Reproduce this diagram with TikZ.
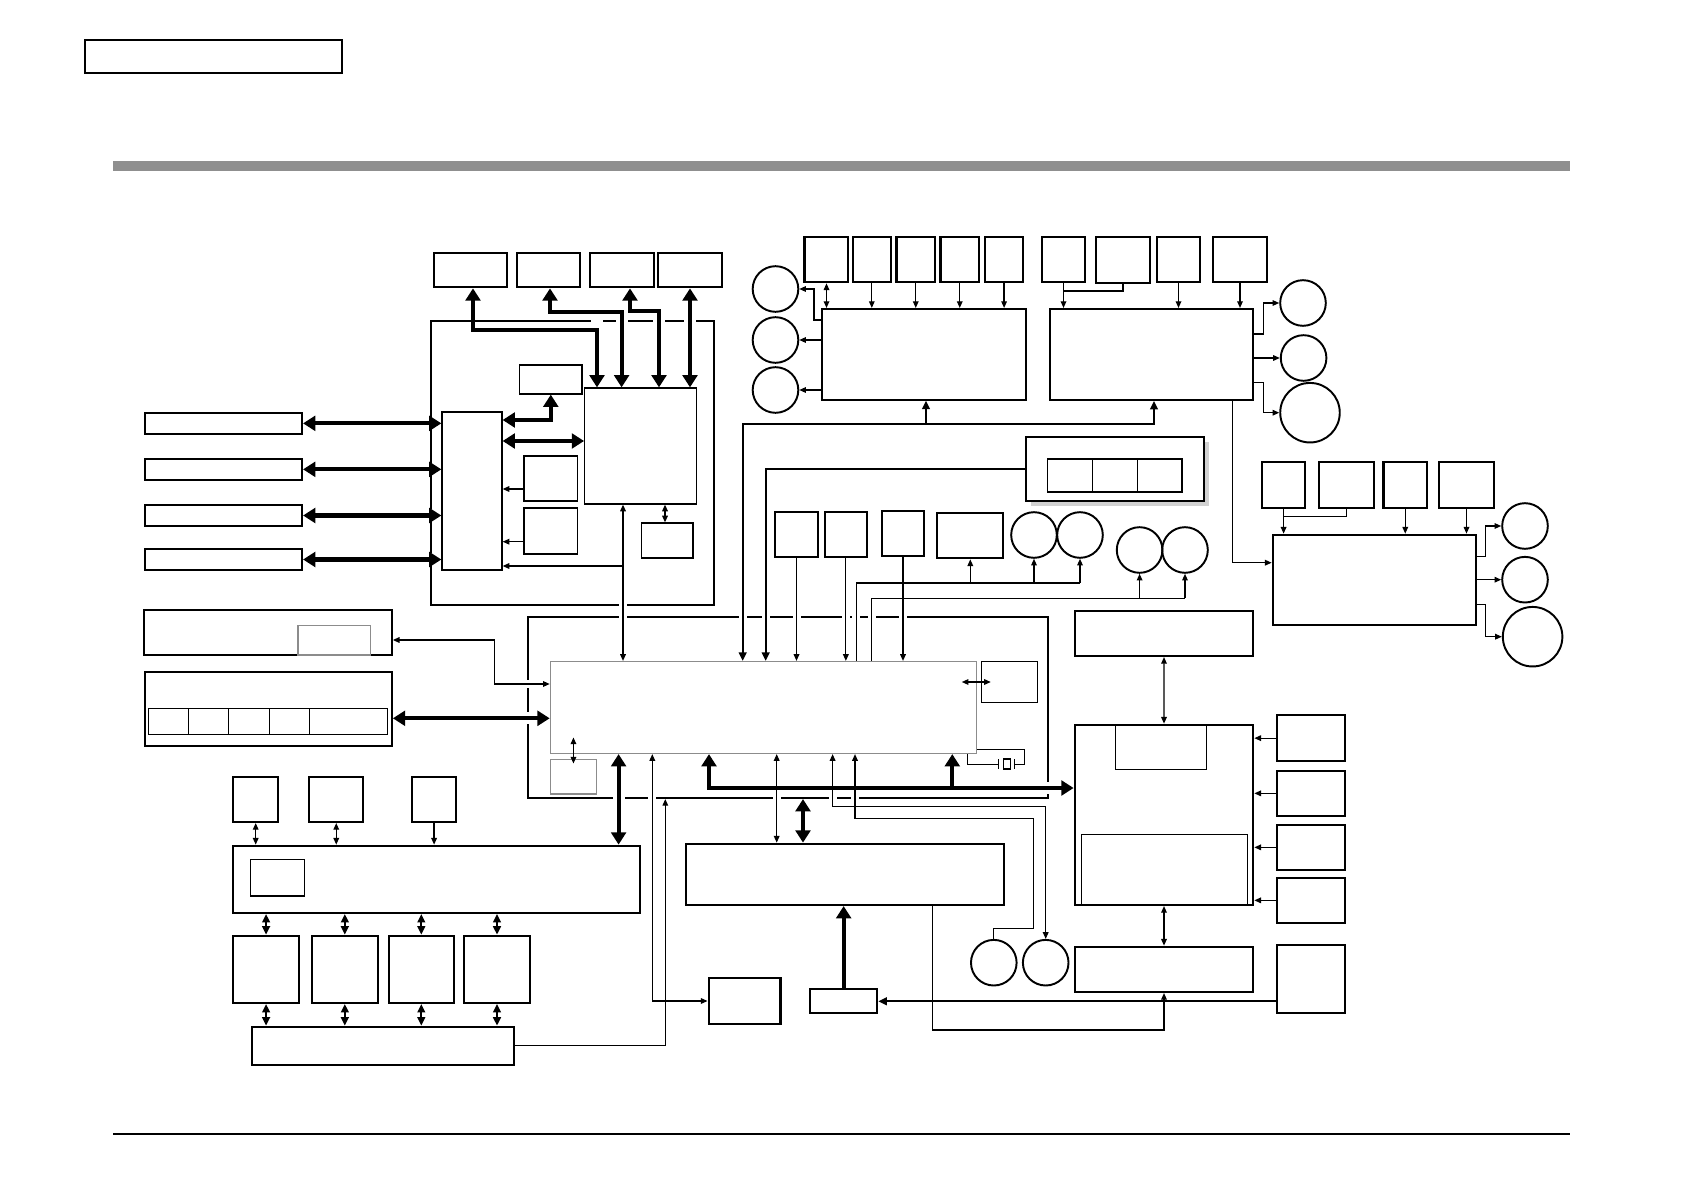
\documentclass[tikz,border=0pt]{standalone}
\usepackage{tikz}
\usetikzlibrary{arrows.meta,fit}

\tikzset{
  blk/.style={draw, line width=0.6pt, fill=white, inner sep=0pt},
  tblk/.style={draw, line width=0.35pt, inner sep=0pt},
  gblk/.style={draw=black!45, line width=0.45pt, inner sep=0pt},
  ring/.style={circle, draw, line width=0.55pt, inner sep=0pt, minimum size=4.56mm},
  bigring/.style={ring, minimum size=5.95mm},
  wire/.style={line width=0.35pt, >={Triangle[length=1.9pt,width=1.6pt]}},
  mwire/.style={line width=0.55pt, >={Triangle[length=2.4pt,width=2.2pt]}},
  bus/.style={line width=1.15pt, >={Triangle[length=3.5pt,width=4.2pt]}}
}

\begin{document}
\begin{tikzpicture}[x=0.01cm, y=-0.01cm]
    \useasboundingbox (0,0) rectangle (1684,1191);

    % page frame
    \node[blk, line width=0.45pt, fit={(85,40) (342,73)}] (hd) {};
    \fill[black!44] (113,161) rectangle (1570,171);
    \draw[line width=0.35pt] (113,1134) -- (1570,1134);

    % containers
    \node[blk, fit={(431,320.7) (714,604.7)}] (lc) {};
    \node[blk, fit={(527.9,617) (1048.4,798)}] (mc) {};
    \foreach \x/\y/\w in {597/320.7/6, 621.6/320.7/6, 659/320.7/6, 690/320.7/6,
                          431/423.3/6, 431/469/6, 431/515/6, 431/559/6, 623/604.7/4,
                          623.2/617/4, 742.7/617/4, 765.7/617/4, 796.5/617/4, 845.9/617/4,
                          856.4/617/4, 871.8/617/4, 903/617/4,
                          527.9/684/4, 527.9/718.3/6, 1048.4/788/6,
                          618.6/798/6, 652.3/798/4, 776.7/798/4, 832.6/798/4, 855/798/4}
        \fill[white] (\x-\w,\y-\w) rectangle (\x+\w,\y+\w);

    % left group
    \node[blk, fit={(433.7,252.7) (507,287.3)}] (t1) {};
    \node[blk, fit={(516.7,252.7) (580,287.3)}] (t2) {};
    \node[blk, fit={(590,252.7) (654,287.3)}] (t3) {};
    \node[blk, fit={(658,253.3) (722,287.3)}] (t4) {};
    \node[tblk, fit={(519.6,365) (582,394)}] (sb) {};
    \node[tblk, fit={(584.7,388) (696.6,504)}] (ctl) {};
    \node[tblk, fit={(442,412) (502,570)}] (hub) {};
    \node[tblk, fit={(524,456) (577.6,501)}] (sa) {};
    \node[tblk, fit={(524,508) (577.6,554)}] (sc) {};
    \node[tblk, fit={(641.5,523) (693,558)}] (sd) {};
    \node[blk, fit={(144.8,412.7) (302,434)}] (l1) {};
    \node[blk, fit={(144.8,458.7) (302,480)}] (l2) {};
    \node[blk, fit={(144.8,505) (302,526)}] (l3) {};
    \node[blk, fit={(144.8,549) (302,570)}] (l4) {};

    % top group
    \node[blk, fit={(804.5,237.3) (848,282.3)}] (u1) {};
    \node[blk, fit={(852.6,237.3) (891,282.3)}] (u2) {};
    \node[blk, fit={(896.5,237.3) (935,282.3)}] (u3) {};
    \node[blk, fit={(940.5,237.3) (979,282.3)}] (u4) {};
    \node[blk, fit={(984.8,237.3) (1023.4,282.3)}] (u5) {};
    \node[blk, fit={(1042,237.3) (1085,282.3)}] (v1) {};
    \node[blk, fit={(1096,237.3) (1150,283)}] (v2) {};
    \node[blk, fit={(1157,237.3) (1200,282.3)}] (v3) {};
    \node[blk, fit={(1213,237.3) (1267,282.3)}] (v4) {};
    \node[blk, fit={(822,309) (1026,399.7)}] (lb) {};
    \node[blk, fit={(1050,309) (1253,400)}] (rb) {};
    \node[ring] (cl1) at (775.5,289) {};
    \node[ring] (cl2) at (775.5,340) {};
    \node[ring] (cl3) at (775.5,390) {};
    \node[ring] (cr1) at (1303,303) {};
    \node[ring] (cr2) at (1303.6,358) {};
    \node[bigring] (cr3) at (1310,412.7) {};

    % panel
    \fill[black!18] (1031,441.7) rectangle (1208.7,506);
    \node[blk, fit={(1026,436.7) (1203.7,501)}] (pn) {};
    \node[tblk, fit={(1047.4,459) (1092.6,492)}] (pc1) {};
    \node[tblk, fit={(1092.6,459) (1137.4,492)}] (pc2) {};
    \node[tblk, fit={(1137.4,459) (1182,492)}] (pc3) {};

    % right group
    \node[blk, fit={(1261.8,462) (1305.4,508)}] (w1) {};
    \node[blk, fit={(1319,462) (1374,508)}] (w2) {};
    \node[blk, fit={(1383.5,462) (1427,508)}] (w3) {};
    \node[blk, fit={(1439,462) (1494,508)}] (w4) {};
    \node[blk, fit={(1272.7,534.7) (1476,625)}] (rl) {};
    \node[ring] (cs1) at (1525,526) {};
    \node[ring] (cs2) at (1525,579.7) {};
    \node[bigring] (cs3) at (1532.6,636.7) {};

    % row above cpu
    \node[blk, fit={(774.7,512.3) (818.3,557)}] (A) {};
    \node[blk, fit={(824.7,512.3) (867,557)}] (B) {};
    \node[blk, fit={(881.7,511.3) (924.3,556)}] (C) {};
    \node[blk, fit={(937.3,513) (1003.3,558.3)}] (D) {};
    \node[ring] (co1) at (1034,535) {};
    \node[ring] (co2) at (1080,535) {};
    \node[ring] (co3) at (1139.6,550) {};
    \node[ring] (co4) at (1185,550) {};

    % cpu and around
    \node[gblk, fill=white, fit={(550.5,661.7) (976.5,753.3)}] (cpu) {};
    \node[tblk, fit={(981.4,661.7) (1037.7,702.3)}] (rs) {};
    \node[gblk, fit={(550.5,759.3) (596.4,794)}] (ls) {};
    \node[blk, fit={(1075,610.7) (1253,656)}] (ab) {};
    \node[blk, fit={(1074.7,724.7) (1253.3,905)}] (mem) {};
    \node[tblk, fit={(1115.7,724.7) (1206.3,769.3)}] (mi1) {};
    \node[tblk, fit={(1081.3,834.3) (1247.3,905)}] (mi2) {};
    \node[blk, fit={(1276.7,715.3) (1345.3,761)}] (r1) {};
    \node[blk, fit={(1276.7,770.7) (1345.3,816)}] (r2) {};
    \node[blk, fit={(1276.7,824.7) (1345.3,870)}] (r3) {};
    \node[blk, fit={(1276.7,877.7) (1345.3,923)}] (r4) {};
    \node[blk, fit={(1276.7,944.7) (1345.3,1013.3)}] (r5) {};
    \node[blk, fit={(1074.7,946.7) (1253.3,992)}] (lw) {};
    \node[ring] (co5) at (993.8,962.7) {};
    \node[ring] (co6) at (1045.7,962.7) {};
    \node[blk, fit={(686.4,843.7) (1003.6,905)}] (mb) {};
    \node[blk, fit={(810,989.3) (877.3,1013.3)}] (dr) {};
    \node[blk, fit={(708.6,978) (780.5,1024)}] (sm) {};

    % lower left group
    \node[blk, fit={(144,610) (391.8,655)}] (tl) {};
    \node[gblk, fit={(298,625.3) (370.4,655)}] (tli) {};
    \node[blk, fit={(144.6,671.7) (391.8,746)}] (pb) {};
    \foreach \a/\b in {148.2/188.2, 188.2/228.2, 228.2/269.3, 269.3/309.3, 309.3/387.5}
        \node[tblk, fit={(\a,708.3) (\b,734.3)}] {};
    \node[blk, fit={(233.2,777.3) (278.2,822)}] (a1) {};
    \node[blk, fit={(309.3,777.3) (363.2,822)}] (a2) {};
    \node[blk, fit={(411.8,777.3) (456.4,822)}] (a3) {};
    \node[blk, fit={(233.2,845.7) (640.4,913)}] (hb) {};
    \node[tblk, fit={(250.4,859.3) (304.3,896)}] (hbi) {};
    \node[blk, fit={(233.2,935.7) (299,1003)}] (q1) {};
    \node[blk, fit={(311.8,935.7) (377.9,1003)}] (q2) {};
    \node[blk, fit={(388.6,935.7) (454,1003)}] (q3) {};
    \node[blk, fit={(463.6,935.7) (530.4,1003)}] (q4) {};
    \node[blk, fit={(251.8,1026.7) (514,1065)}] (bb) {};

    % connectors: left group
    \draw[bus,<->] (t1.south -| 473,0) |- (597,330) -- (ctl.north -| 597,0);
    \draw[bus,<->] (t2.south -| 550,0) |- (621.6,311.7) -- (ctl.north -| 621.6,0);
    \draw[bus,<->] (t3.south -| 630,0) |- (659,311) -- (ctl.north -| 659,0);
    \draw[bus,<->] (t4.south -| 690,0) -- (ctl.north -| 690,0);
    \draw[bus,<->] (hub.east |- 0,420) -| (sb.south);
    \draw[bus,<->] (hub.east |- 0,441) -- (ctl.west |- 0,441);
    \draw[wire,->] (sa.west |- 0,489) -- (hub.east |- 0,489);
    \draw[wire,->] (sc.west |- 0,541.7) -- (hub.east |- 0,541.7);
    \foreach \n in {l1,l2,l3,l4}
        \draw[bus,<->] (\n.east) -- (hub.west |- \n.east);
    \coordinate (j1) at (623,566);
    \draw[wire,<->] (ctl.south -| 623,0) -- (cpu.north -| 623,0);
    \draw[wire,->] (j1) -- (hub.east |- j1);
    \draw[wire,<->] (ctl.south -| 665,0) -- (sd.north -| 665,0);

    % connectors: top group
    \draw[wire,<->] (u1.south -| 826.5,0) -- (lb.north -| 826.5,0);
    \foreach \n in {u2,u3,u4,u5,v1,v3,v4}
        \draw[wire,->] (\n.south) -- (lb.north -| \n.south);
    \draw[wire] (v2.south) |- (v1.south |- 0,291);
    \draw[wire,->] (lb.west |- 0,320) -- (814,320) |- (cl1.east);
    \draw[wire,->] (lb.west |- cl2) -- (cl2.east);
    \draw[wire,->] (lb.west |- cl3) -- (cl3.east);
    \draw[wire,->] (rb.east |- 0,334) -- (1263.8,334) |- (cr1.west);
    \draw[wire,->] (rb.east |- cr2) -- (cr2.west);
    \draw[wire,->] (rb.east |- 0,382.7) -- (1263.8,382.7) |- (cr3.west);
    \coordinate (j2) at (926,424);
    \draw[mwire,<->] (cpu.north -| 742.7,0) |- (1154,424) -- (rb.south -| 1154,0);
    \draw[mwire,->] (j2) -- (lb.south -| j2);
    \draw[mwire,->] (pn.west) -| (cpu.north -| 765.7,0);
    \foreach \n in {A,B,C}
        \draw[wire,->] (\n.south) -- (cpu.north -| \n.south);
    \draw[wire] (cpu.north -| 856.4,0) |- (co2.south |- 0,583) coordinate (k1);
    \foreach \n in {D,co1,co2}
        \draw[wire,->] (\n.south |- k1) -- (\n.south);
    \draw[wire] (cpu.north -| 871.8,0) |- (co4.south |- 0,598.3) coordinate (k2);
    \foreach \n in {co3,co4}
        \draw[wire,->] (\n.south |- k2) -- (\n.south);

    % connectors: right group
    \draw[wire,->] (rb.south -| 1232.5,0) |- (rl.west |- 0,562.7);
    \foreach \n in {w1,w3,w4}
        \draw[wire,->] (\n.south) -- (rl.north -| \n.south);
    \draw[wire] (w2.south) |- (w1.south |- 0,516.7);
    \draw[wire,->] (rl.east |- 0,556.7) -- (1485.6,556.7) |- (cs1.west);
    \draw[wire,->] (rl.east |- cs2) -- (cs2.west);
    \draw[wire,->] (rl.east |- 0,604.3) -- (1485.6,604.3) |- (cs3.west);

    % connectors: memory side
    \draw[wire,<->] (ab.south) -- (mem.north);
    \foreach \n in {r1,r2,r3,r4}
        \draw[wire,->] (\n.west) -- (mem.east |- \n.west);
    \draw[wire,<->] (mem.south) -- (lw.north);
    \draw[mwire,->] (r5.west |- dr.east) -- (dr.east);
    \draw[wire,->] (mb.south -| 932.4,0) |- (lw.south |- 0,1030) -- (lw.south);
    \draw[bus,->] (dr.north) -- (mb.south -| dr.north);

    % connectors: cpu
    \draw[wire,<->] (tl.east |- 0,640) -- (494.6,640) |- (cpu.west |- 0,684);
    \draw[bus,<->] (pb.east |- 0,718.3) -- (cpu.west |- 0,718.3);
    \draw[wire,<->] ([xshift=-0.19cm]rs.west) -- ([xshift=0.1cm]rs.west);
    \draw[wire,<->] ([yshift=0.21cm]ls.north) -- ([yshift=-0.05cm]ls.north);
    \draw[bus,<->] (cpu.south -| 618.6,0) -- (hb.north -| 618.6,0);
    \draw[wire,<->] (cpu.south -| 652.3,0) |- (sm.west);
    \draw[wire,->] (bb.east) -| (mc.south -| 665.3,0);
    \coordinate (k3) at (952.3,788);
    \draw[bus,<->] (cpu.south -| 709,0) |- (mem.west |- 0,788);
    \draw[bus,->] (k3) -- (cpu.south -| k3);
    \draw[wire,<->] (cpu.south -| 776.7,0) -- (mb.north -| 776.7,0);
    \draw[bus,<->] (mc.south -| 803,0) -- (mb.north -| 803,0);
    \draw[wire,<->] (cpu.south -| 832.6,0) |- (co6.north |- 0,806.3) -- (co6.north);
    \draw[wire,<-] (cpu.south -| 855,0) |- (1033.5,818.3) |- (co5.north |- 0,928.3) -- (co5.north);

    % crystal
    \draw[wire] (cpu.east |- 0,749.3) -- (1024.3,749.3) |- (1014.7,764.3);
    \draw[wire] (998.3,764.3) -| (cpu.south -| 967.7,0);
    \draw[wire] (998.3,759) -- (998.3,769) (1014.7,759) -- (1014.7,769);
    \draw[wire] (1003.6,759) rectangle (1010.5,769);

    % connectors: lower left group
    \draw[wire,<->] (a1.south) -- (hb.north -| a1.south);
    \draw[wire,<->] (a2.south) -- (hb.north -| a2.south);
    \draw[wire,->] (a3.south) -- (hb.north -| a3.south);
    \foreach \n in {q1,q2,q3,q4} {
        \draw[mwire,<->] (hb.south -| \n.north) -- (\n.north);
        \draw[mwire,<->] (\n.south) -- (bb.north -| \n.south);
    }
\end{tikzpicture}
\end{document}
